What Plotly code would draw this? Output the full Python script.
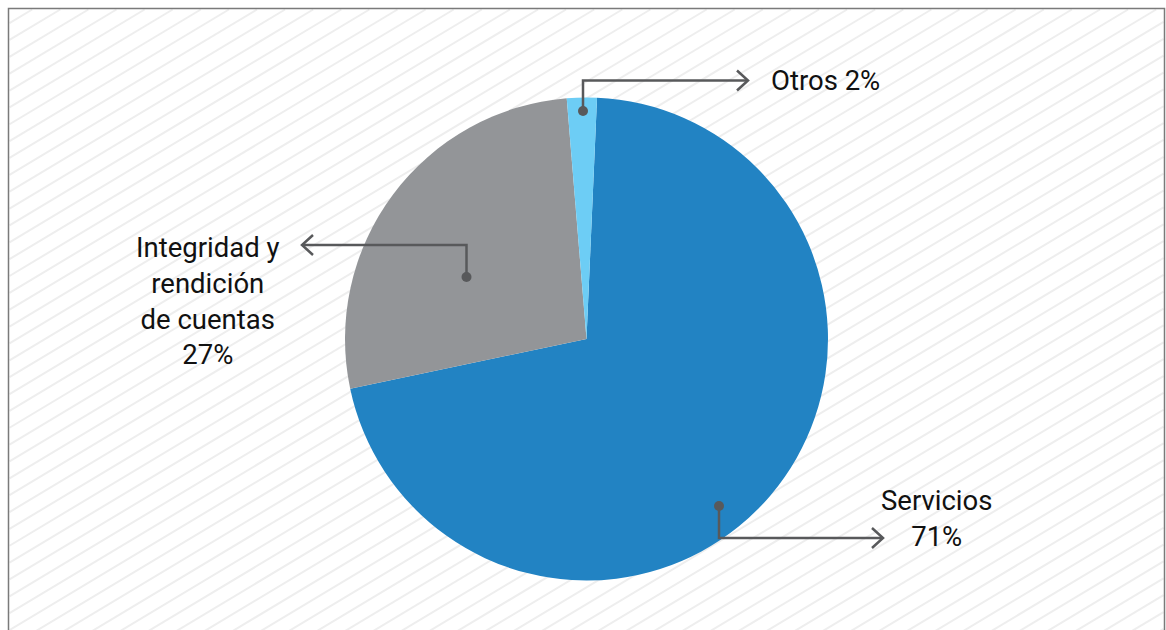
import plotly.graph_objects as go

W, H = 1166, 630
OFF = 0  # page offset of the figure in the browser window

# ---- data ----
labels = ["Servicios", "Integridad y rendición de cuentas", "Otros"]
values = [71, 27, 2]
label_texts = ["Servicios<br>71%", "Integridad y<br>rendición<br>de cuentas<br>27%", "Otros 2%"]
colors = ["#2283C3", "#939598", "#6DCDF5"]


def px(x):
    return (x - OFF) / W


def py(y):
    return 1 - (y - OFF) / H


shapes = []

# hatched background, clipped to the frame
x0b, x1b, y0b, y1b = 9.5, 1163.5, 9.5, 660
s = 0.6
d = 28.1
c0 = 28.8
k = -5
while True:
    c = c0 + k * d * s
    k += 1
    xa = max(x0b, (c - y1b) / s)
    xb = min(x1b, (c - y0b) / s)
    if (c - y1b) / s > x1b:
        break
    if xb <= xa:
        continue
    shapes.append(dict(type="line", xref="paper", yref="paper",
                       x0=px(xa), y0=py(c - s * xa), x1=px(xb), y1=py(c - s * xb),
                       line=dict(color="#EEEEEE", width=2), layer="below"))

# frame
shapes.append(dict(type="rect", xref="paper", yref="paper",
                   x0=px(8.5), y0=py(8.5), x1=px(1164.5), y1=py(680),
                   line=dict(color="#7A7A7A", width=1.5), fillcolor="rgba(0,0,0,0)", layer="above"))

LC = "#58595B"


def connector(points, tip, direction):
    path = "M " + " L ".join(f"{px(x)},{py(y)}" for x, y in points)
    shapes.append(dict(type="path", xref="paper", yref="paper", path=path,
                       line=dict(color=LC, width=2.5), layer="above"))
    tx, ty = tip
    bx = tx - 11 * direction
    chev = f"M {px(bx)},{py(ty - 10)} L {px(tx)},{py(ty)} L {px(bx)},{py(ty + 10)}"
    shapes.append(dict(type="path", xref="paper", yref="paper", path=chev,
                       line=dict(color=LC, width=2.5), layer="above"))
    dx, dy = points[0]
    r = 5
    shapes.append(dict(type="circle", xref="paper", yref="paper",
                       x0=px(dx - r), x1=px(dx + r), y0=py(dy - r), y1=py(dy + r),
                       fillcolor=LC, line=dict(width=0), layer="above"))


# Otros
connector([(583, 111), (583, 80.5), (748, 80.5)], (748, 80.5), 1)
# Integridad
connector([(466.5, 277), (466.5, 245), (302, 245)], (302, 245), -1)
# Servicios
connector([(719, 506), (719, 538), (883, 538)], (883, 538), 1)

FONT = dict(family="Roboto, Arial, sans-serif", size=27.5, color="#111111")

annotations = [
    dict(text=label_texts[2], x=px(769), y=py(81), xref="paper", yref="paper",
         xanchor="left", yanchor="middle", showarrow=False, font=FONT),
    dict(text=label_texts[1], x=px(207.5), y=py(301), xref="paper", yref="paper",
         xanchor="center", yanchor="middle", showarrow=False, font=FONT, align="center"),
    dict(text=label_texts[0], x=px(936), y=py(518), xref="paper", yref="paper",
         xanchor="center", yanchor="middle", showarrow=False, font=FONT, align="center"),
]

cx, cy, R = 586.5, 339, 241.5

fig = go.Figure(go.Pie(
    labels=labels, values=values, sort=False, direction="clockwise", rotation=2.5,
    marker=dict(colors=colors, line=dict(width=0)),
    textinfo="none", hoverinfo="label+percent", showlegend=False,
    domain=dict(x=[px(cx - R), px(cx + R)], y=[py(cy + R), py(cy - R)]),
))

fig.update_layout(
    width=W, height=H,
    margin=dict(l=0, r=0, t=0, b=0),
    paper_bgcolor="white", plot_bgcolor="white",
    shapes=shapes, annotations=annotations,
)

fig.write_html("out.html", config={"displayModeBar": False},
               post_script="document.body.style.margin='0';document.body.style.overflow='hidden';")
